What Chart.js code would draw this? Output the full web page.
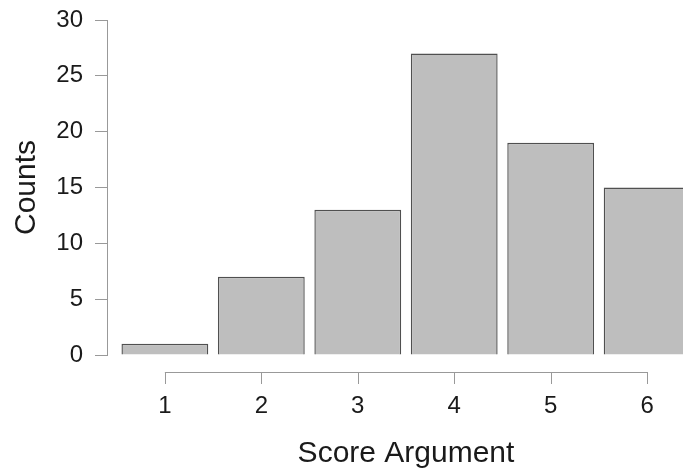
<!DOCTYPE html>
<html>
<head>
<meta charset="utf-8">
<script src="https://cdn.jsdelivr.net/npm/chart.js@4"></script>
<style>
  html, body { margin: 0; padding: 0; background: #fff; overflow: hidden; }
  /* plot region runs a little past the right edge of the window, as in the reference */
  #wrap { width: 705px; height: 468px; }
</style>
</head>
<body>
<div id="wrap"><canvas id="scoreChart"></canvas></div>
<script>
// data
const scores = [1, 2, 3, 4, 5, 6];
const counts = [1, 7, 13, 27, 19, 15];
const yTicks = [0, 5, 10, 15, 20, 25, 30];

const axisGrey = '#999999';
const textColor = '#1a1a1a';

// R-style x axis: line only from first to last tick, set below the bars
const rAxisX = {
    id: 'rAxisX',
    afterDraw(chart) {
        const { ctx, chartArea, scales } = chart;
        const x = scales.x;
        const y0 = chartArea.bottom + 17;
        ctx.save();
        ctx.strokeStyle = axisGrey;
        ctx.lineWidth = 1;
        ctx.beginPath();
        ctx.moveTo(x.getPixelForValue(scores[0]), y0 + 0.5);
        ctx.lineTo(x.getPixelForValue(scores[scores.length - 1]), y0 + 0.5);
        scores.forEach(s => {
            const px = Math.round(x.getPixelForValue(s)) + 0.5;
            ctx.moveTo(px, y0);
            ctx.lineTo(px, y0 + 12);
        });
        ctx.stroke();
        ctx.restore();
    }
};

new Chart(document.getElementById('scoreChart'), {
    type: 'bar',
    data: {
        datasets: [{
            data: scores.map((s, i) => ({ x: s, y: counts[i] })),
            backgroundColor: '#bebebe',
            borderColor: '#505050',
            borderWidth: 1.4,
            barPercentage: 0.9,
            categoryPercentage: 1
        }]
    },
    options: {
        responsive: true,
        maintainAspectRatio: false,
        animation: false,
        layout: { padding: { top: 20, right: 0, left: 0, bottom: 0 } },
        plugins: { legend: { display: false }, tooltip: { enabled: false } },
        scales: {
            x: {
                type: 'linear',
                offset: false,
                min: 0.4,
                max: 6.6,
                afterBuildTicks: s => { s.ticks = scores.map(v => ({ value: v })); },
                afterFit: s => { s.height = 113; },
                grid: { display: false, drawTicks: false },
                border: { display: false },
                ticks: {
                    padding: 37,
                    color: textColor,
                    font: { family: 'Liberation Sans', size: 24 },
                    maxRotation: 0
                },
                title: {
                    display: true,
                    text: 'Score Argument',
                    color: textColor,
                    font: { family: 'Liberation Sans', size: 30 },
                    padding: { top: 0, bottom: -4 }
                }
            },
            y: {
                min: 0,
                max: 30,
                afterBuildTicks: s => { s.ticks = yTicks.map(v => ({ value: v })); },
                afterFit: s => {
                    s.width = 107;
                    s.paddingTop = 0;
                    s.paddingBottom = 0;
                },
                grid: { drawOnChartArea: false, drawTicks: true, tickLength: 12, color: axisGrey },
                border: { display: true, color: axisGrey },
                ticks: {
                    padding: 12,
                    color: textColor,
                    font: { family: 'Liberation Sans', size: 24 }
                },
                title: {
                    display: true,
                    text: 'Counts',
                    color: textColor,
                    font: { family: 'Liberation Sans', size: 30 },
                    padding: { top: 9, bottom: 0 }
                }
            }
        }
    },
    plugins: [rAxisX]
});
</script>
</body>
</html>
